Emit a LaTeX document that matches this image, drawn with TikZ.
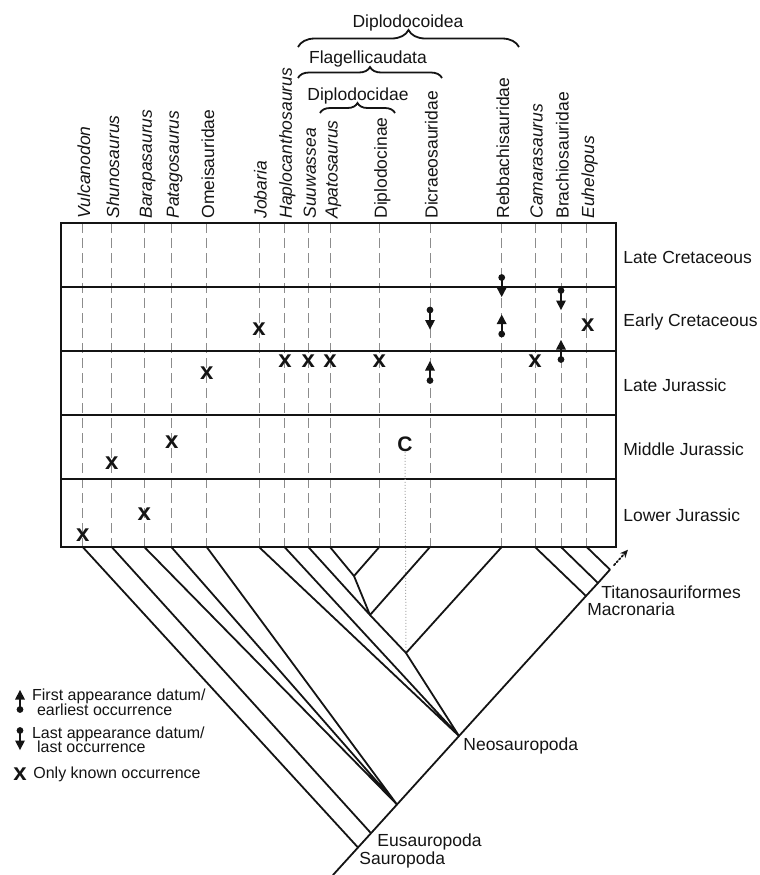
\documentclass[tikz,border=0pt]{standalone}
\usepackage{fontspec}
\setmainfont{Liberation Sans}
\usepackage{tikz}
\usetikzlibrary{positioning, arrows.meta, decorations.pathreplacing}
\definecolor{inkColor}{RGB}{20, 20, 20}
\definecolor{gridColor}{RGB}{140, 140, 140}
\definecolor{linkColor}{RGB}{170, 170, 170}
\tikzset{
    taxon_label/.style={
        rotate=90,
        anchor=base west,
        inner sep=0pt,
        text=inkColor,
        font=\fontsize{8.75}{10}\selectfont
    },
    period_label/.style={
        anchor=base west,
        inner sep=0pt,
        text=inkColor,
        font=\fontsize{8.75}{10}\selectfont
    },
    clade_label/.style={
        period_label
    },
    group_label/.style={
        anchor=base,
        inner sep=0pt,
        text=inkColor,
        font=\fontsize{8.75}{10}\selectfont
    },
    legend_text/.style={
        anchor=base west,
        inner sep=0pt,
        text=inkColor,
        font=\fontsize{8}{9}\selectfont
    },
    group_brace/.style={
        decorate,
        decoration={brace, amplitude=#1},
        line width=0.9pt,
        draw=inkColor
    },
    period_line/.style={
        line width=1.3pt,
        draw=inkColor
    },
    age_grid/.style={
        line width=0.5pt,
        draw=gridColor,
        dash pattern=on 5pt off 2.5pt
    },
    tree_edge/.style={
        line width=0.9pt,
        line cap=round,
        line join=round,
        draw=inkColor
    },
    c_link/.style={
        line width=0.5pt,
        draw=linkColor,
        densely dotted
    },
    only_occ/.style={
        inner sep=0pt,
        text=inkColor,
        font=\fontsize{12}{12}\selectfont\bfseries
    },
    c_label/.style={
        inner sep=0pt,
        text=inkColor,
        font=\fontsize{10.5}{11}\selectfont\bfseries
    },
    fad_mark/.pic={
        \fill[inkColor] (0,-10) -- (5,-0.5) -- (-5,-0.5) -- cycle;
        \draw[inkColor, line width=1pt] (0,-1) -- (0,9);
        \fill[inkColor] (0,9.5) circle (1.7pt);
    },
    lad_mark/.pic={
        \fill[inkColor] (0,10) -- (5,0.5) -- (-5,0.5) -- cycle;
        \draw[inkColor, line width=1pt] (0,1) -- (0,-9);
        \fill[inkColor] (0,-9.5) circle (1.7pt);
    }
}
\begin{document}
\begin{tikzpicture}[x=0.5pt, y=-0.5pt]
    \useasboundingbox (0,0) rectangle (760,875);

    \coordinate (box_nw) at (61,223);
    \coordinate (box_se) at (616,547);

    \coordinate (vul) at (82.7,547);
    \coordinate (shu) at (111.7,547);
    \coordinate (bar) at (144.3,547);
    \coordinate (pat) at (171.3,547);
    \coordinate (ome) at (206.7,547);
    \coordinate (job) at (259,547);
    \coordinate (hap) at (284.5,547);
    \coordinate (suu) at (308.3,547);
    \coordinate (apa) at (330,547);
    \coordinate (dpn) at (379.3,547);
    \coordinate (dic) at (430,547);
    \coordinate (reb) at (501.7,547);
    \coordinate (cam) at (535,547);
    \coordinate (bra) at (561,547);
    \coordinate (euh) at (586.7,547);

    \node[taxon_label] (l_vul) at (90.2,219) {\textit{Vulcanodon}};
    \node[taxon_label] (l_shu) at (119.2,219) {\textit{Shunosaurus}};
    \node[taxon_label] (l_bar) at (151.8,219) {\textit{Barapasaurus}};
    \node[taxon_label] (l_pat) at (178.8,219) {\textit{Patagosaurus}};
    \node[taxon_label] (l_ome) at (214.2,219) {Omeisauridae};
    \node[taxon_label] (l_job) at (266.5,219) {\textit{Jobaria}};
    \node[taxon_label] (l_hap) at (292,219) {\textit{Haplocanthosaurus}};
    \node[taxon_label] (l_suu) at (315.8,219) {\textit{Suuwassea}};
    \node[taxon_label] (l_apa) at (337.5,219) {\textit{Apatosaurus}};
    \node[taxon_label] (l_dpn) at (386.8,219) {Diplodocinae};
    \node[taxon_label] (l_dic) at (437.5,219) {Dicraeosauridae};
    \node[taxon_label] (l_reb) at (509.2,219) {Rebbachisauridae};
    \node[taxon_label] (l_cam) at (542.5,219) {\textit{Camarasaurus}};
    \node[taxon_label] (l_bra) at (568.5,219) {Brachiosauridae};
    \node[taxon_label] (l_euh) at (594.2,219) {\textit{Euhelopus}};

    \node[group_label] (g_dpd) at (358,100) {Diplodocidae};
    \node[group_label] (g_fla) at (368,63) {Flagellicaudata};
    \node[group_label] (g_dpc) at (408,27) {Diplodocoidea};
    \draw[group_brace=5pt] (320,113) -- (395,113);
    \draw[group_brace=5.5pt] (298,78) -- (442,78);
    \draw[group_brace=8.5pt] (298,47) -- (519,47);

    \draw[age_grid]
        (vul |- box_nw) -- (vul)
        (shu |- box_nw) -- (shu)
        (bar |- box_nw) -- (bar)
        (pat |- box_nw) -- (pat)
        (ome |- box_nw) -- (ome)
        (job |- box_nw) -- (job)
        (hap |- box_nw) -- (hap)
        (suu |- box_nw) -- (suu)
        (apa |- box_nw) -- (apa)
        (dpn |- box_nw) -- (dpn)
        (dic |- box_nw) -- (dic)
        (reb |- box_nw) -- (reb)
        (cam |- box_nw) -- (cam)
        (bra |- box_nw) -- (bra)
        (euh |- box_nw) -- (euh);

    \draw[period_line] (box_nw) rectangle (box_se);
    \draw[period_line]
        (61,287) -- (616,287)
        (61,351) -- (616,351)
        (61,415) -- (616,415)
        (61,479) -- (616,479);

    \node[period_label] (per_lc) at (623,263) {Late Cretaceous};
    \node[period_label] (per_ec) at (623,326) {Early Cretaceous};
    \node[period_label] (per_lj) at (623,391) {Late Jurassic};
    \node[period_label] (per_mj) at (623,455) {Middle Jurassic};
    \node[period_label] (per_lo) at (623,521) {Lower Jurassic};

    \node[only_occ] (x_vul) at (82.7,535) {x};
    \node[only_occ] (x_shu) at (111.7,462.7) {x};
    \node[only_occ] (x_bar) at (144.3,514.3) {x};
    \node[only_occ] (x_pat) at (171.7,441.7) {x};
    \node[only_occ] (x_ome) at (206.7,373.3) {x};
    \node[only_occ] (x_job) at (259,329.3) {x};
    \node[only_occ] (x_hap) at (285,361) {x};
    \node[only_occ] (x_suu) at (308.3,361) {x};
    \node[only_occ] (x_apa) at (330,361) {x};
    \node[only_occ] (x_dpn) at (379.3,361) {x};
    \node[only_occ] (x_cam) at (535,361) {x};
    \node[only_occ] (x_euh) at (587.7,325) {x};

    \pic at (430,319.5) {lad_mark};
    \pic at (430,371) {fad_mark};
    \pic at (501.7,287) {lad_mark};
    \pic at (501.7,324.5) {fad_mark};
    \pic at (561,300) {lad_mark};
    \pic at (561,350) {fad_mark};

    \coordinate (root) at (333,875);
    \coordinate (sau) at (358,847.5);
    \coordinate (eus) at (371,833.2);
    \coordinate (n_bpo) at (397,804.5);
    \coordinate (neo) at (459,736);
    \coordinate (mac) at (586,596);
    \coordinate (tit) at (598,583);
    \coordinate (n_euh) at (610,569.6);
    \coordinate (arr_tip) at (628,549.7);
    \coordinate (dpd) at (354,576);
    \coordinate (fla) at (370,615);
    \coordinate (dpc) at (406,653);

    \node[c_label] (c_lbl) at (405,444) {C};
    \draw[c_link] (c_lbl) -- (dpc);

    \draw[tree_edge]
        (root) -- (sau) -- (eus) -- (n_bpo) -- (neo) -- (mac) -- (tit) -- (n_euh)
        (vul) -- (sau)
        (shu) -- (eus)
        (bar) -- (n_bpo)
        (pat) -- (n_bpo)
        (ome) -- (n_bpo)
        (job) -- (neo)
        (hap) -- (neo)
        (suu) -- (fla)
        (apa) -- (dpd)
        (dpn) -- (dpd)
        (dpd) -- (fla)
        (dic) -- (fla)
        (fla) -- (dpc)
        (reb) -- (dpc)
        (dpc) -- (neo)
        (cam) -- (mac)
        (bra) -- (tit)
        (euh) -- (n_euh);
    \draw[tree_edge, densely dotted, -{Stealth[length=4pt, width=3.5pt]}, shorten <=3pt] (n_euh) -- (arr_tip);

    \node[clade_label] (l_tit) at (601,598) {Titanosauriformes};
    \node[clade_label] (l_mac) at (587,615) {Macronaria};
    \node[clade_label] (l_neo) at (463,750) {Neosauropoda};
    \node[clade_label] (l_eus) at (377,846) {Eusauropoda};
    \node[clade_label] (l_sau) at (359,864) {Sauropoda};

    \pic at (20,700) {fad_mark};
    \pic at (20,740) {lad_mark};
    \node[only_occ] (x_leg) at (20,774) {x};
    \node[legend_text] (leg_fad_a) at (31.7,700) {First appearance datum/};
    \node[legend_text] (leg_fad_b) at (36.7,715) {earliest occurrence};
    \node[legend_text] (leg_lad_a) at (31.7,738) {Last appearance datum/};
    \node[legend_text] (leg_lad_b) at (36.7,752) {last occurrence};
    \node[legend_text] (leg_only) at (33,778) {Only known occurrence};
\end{tikzpicture}
\end{document}
